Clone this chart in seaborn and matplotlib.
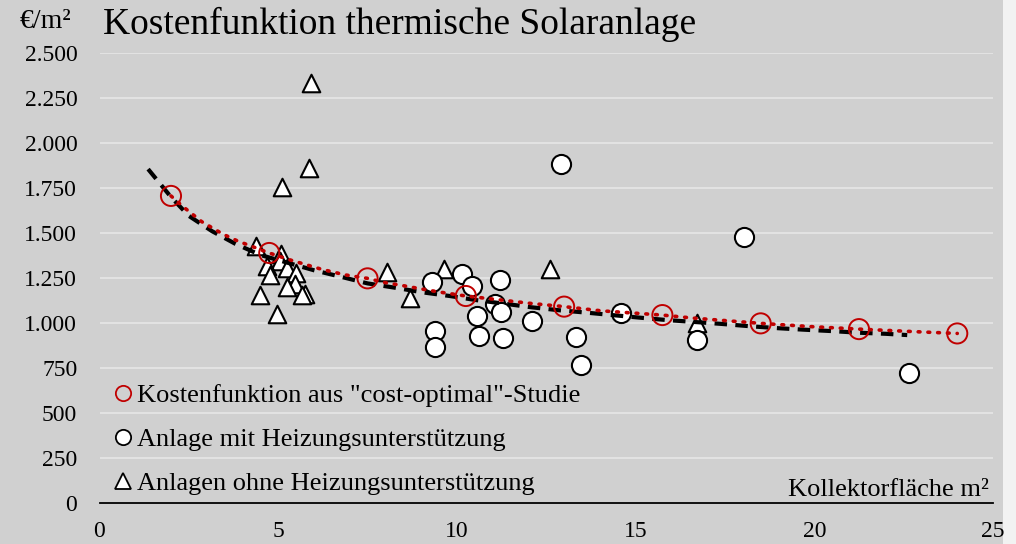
import matplotlib
matplotlib.use("Agg")
import matplotlib.pyplot as plt
import matplotlib.ticker as mticker
from matplotlib.lines import Line2D
from matplotlib.patches import Rectangle
import seaborn as sns
import pandas as pd

# ---- data ----
# cost-function points (red circles)
cost_x = [2.0, 4.75, 7.5, 10.25, 13.0, 15.75, 18.5, 21.25, 24.0]
cost_y = [1706, 1389, 1248, 1150, 1091, 1044, 998, 966, 942]

# red dotted curve through the cost-function points
costline_x = [2.0, 2.34, 2.86, 3.45, 3.86, 4.75, 5.34, 6.22, 6.88, 7.5, 7.95, 8.65,
              9.44, 10.25, 11.13, 12.06, 13.0, 14.02, 15.75, 16.63, 18.5, 19.9,
              21.25, 22.8, 24.0]
costline_y = [1706, 1646, 1563, 1494, 1456, 1389, 1350, 1298, 1267, 1248, 1226, 1202,
              1174, 1150, 1130, 1109, 1091, 1068, 1044, 1027, 998, 980,
              966, 952, 942]

# Anlage mit Heizungsunterstützung (white circles)
mit_x = [12.9, 18.02, 22.65, 16.71, 14.58, 9.3, 10.15, 10.43, 11.2, 11.08, 11.24,
         10.57, 12.09, 9.39, 9.4, 10.61, 11.29, 13.33, 13.48]
mit_y = [1883, 1480, 724, 906, 1054, 1226, 1270, 1206, 1239, 1104, 1063,
         1041, 1011, 956, 869, 928, 918, 924, 765]

# Anlagen ohne Heizungsunterstützung (white triangles)
ohne_x = [5.92, 5.87, 5.12, 4.37, 5.07, 5.06, 4.69, 5.24, 5.5, 4.76, 5.46, 5.24,
          4.48, 5.74, 5.66, 4.96, 8.04, 8.68, 9.63, 12.6, 16.73]
ohne_y = [2333, 1859, 1757, 1428, 1382, 1346, 1317, 1304, 1279, 1267, 1217, 1202,
          1156, 1161, 1154, 1050, 1285, 1137, 1298, 1298, 998]

# black dashed trend line
trend_x = [1.36, 2.0, 2.5, 3.15, 3.8, 4.5, 6.0, 6.75, 7.5, 8.3, 9.05, 9.8, 10.55,
           11.3, 12.1, 12.85, 13.6, 14.35, 15.1, 15.9, 16.7, 17.4, 18.2, 19.0,
           19.7, 20.5, 21.25, 22.0, 22.6]
trend_y = [1855, 1700, 1595, 1510, 1440, 1378, 1293, 1257, 1220, 1195, 1170, 1150,
           1127, 1108, 1087, 1071, 1058, 1044, 1030, 1016, 1005, 995, 982, 971,
           963, 955, 946, 940, 933]

x_ticks = [0, 5, 10, 15, 20, 25]
y_ticks = [0, 250, 500, 750, 1000, 1250, 1500, 1750, 2000, 2250, 2500]

title = "Kostenfunktion thermische Solaranlage"
lab_cost = 'Kostenfunktion aus "cost-optimal"-Studie'
lab_mit = "Anlage mit Heizungsunterstützung"
lab_ohne = "Anlagen ohne Heizungsunterstützung"

sns.set_theme(style="white")
plt.rcParams["font.family"] = ["Liberation Serif", "DejaVu Serif"]
plt.rcParams["text.color"] = "black"
plt.rcParams["xtick.color"] = "black"
plt.rcParams["ytick.color"] = "black"

BG = "#d0d0d0"
RED = "#c00000"

fig = plt.figure(figsize=(10.16, 5.44), dpi=100)
fig.patch.set_facecolor("#f2f2f2")
fig.patches.append(Rectangle((0, 0), 1003 / 1016, 1, transform=fig.transFigure,
                             facecolor=BG, edgecolor="none", zorder=-10))
ax = fig.add_axes([99.5 / 1016, 1 - 503 / 544, (993 - 99.5) / 1016, 450 / 544])
ax.set_facecolor(BG)

df_mit = pd.DataFrame({"x": mit_x, "y": mit_y})
df_ohne = pd.DataFrame({"x": ohne_x, "y": ohne_y})
df_cost = pd.DataFrame({"x": cost_x, "y": cost_y})
df_costline = pd.DataFrame({"x": costline_x, "y": costline_y})
df_trend = pd.DataFrame({"x": trend_x, "y": trend_y})

sns.scatterplot(data=df_ohne, x="x", y="y", marker="^", s=160, color="white",
                edgecolor="black", linewidth=1.5, ax=ax, zorder=3)
sns.scatterplot(data=df_mit, x="x", y="y", marker="o", s=190, color="white",
                edgecolor="black", linewidth=1.5, ax=ax, zorder=3)
sns.lineplot(data=df_trend, x="x", y="y", color="black", linewidth=3.0,
             ax=ax, zorder=4, sort=False)
ax.lines[-1].set_linestyle((0, (3.0, 2.0)))
sns.lineplot(data=df_costline, x="x", y="y", color=RED, linewidth=2.6, ax=ax,
             zorder=5, sort=False)
ax.lines[-1].set_linestyle((0, (0.5, 2.2)))
ax.lines[-1].set_dash_capstyle("round")
sns.scatterplot(data=df_cost, x="x", y="y", marker="o", s=210, facecolor="none",
                edgecolor=RED, linewidth=1.4, ax=ax, zorder=6)

ax.set_xlim(0, 25)
ax.set_ylim(0, 2500)
ax.set_xticks(x_ticks)
ax.set_yticks(y_ticks)
ax.yaxis.set_major_formatter(mticker.FuncFormatter(lambda v, p: f"{int(v):,}".replace(",", ".")))
ax.tick_params(axis="both", length=0, labelsize=17, colors="black")
ax.tick_params(axis="y", pad=16)
ax.tick_params(axis="x", pad=13)
ax.set_xlabel("")
ax.set_ylabel("")
ax.grid(axis="y", color="#e2e2e2", linewidth=1.5)
ax.grid(axis="x", visible=False)
ax.set_axisbelow(True)
for s in ["top", "right", "left"]:
    ax.spines[s].set_visible(False)
ax.spines["bottom"].set_color("black")
ax.spines["bottom"].set_linewidth(1.3)
ax.spines["bottom"].set_zorder(7)

handles = [
    Line2D([], [], linestyle="none", marker="o", markersize=11, markerfacecolor="none",
           markeredgecolor=RED, markeredgewidth=1.3),
    Line2D([], [], linestyle="none", marker="o", markersize=11, markerfacecolor="white",
           markeredgecolor="black", markeredgewidth=1.3),
    Line2D([], [], linestyle="none", marker="^", markersize=11, markerfacecolor="white",
           markeredgecolor="black", markeredgewidth=1.3),
]
ax.legend(handles, [lab_cost, lab_mit, lab_ohne], loc="lower left",
          bbox_to_anchor=(0.009, 0.0), frameon=False, fontsize=19,
          handlelength=0.6, handletextpad=0.2, labelspacing=0.78,
          borderaxespad=0.1, borderpad=0.2)

fig.text(20 / 1016, 1 - 22 / 544, "€/m²", fontsize=20, va="center", ha="left")
fig.text(103 / 1016, 1 - 24 / 544, title, fontsize=27, va="center", ha="left")
ax.text(0.995, 0.005, "Kollektorfläche m²", transform=ax.transAxes, fontsize=19,
        ha="right", va="bottom")

fig.savefig("out.png", dpi=100, facecolor=fig.get_facecolor())
